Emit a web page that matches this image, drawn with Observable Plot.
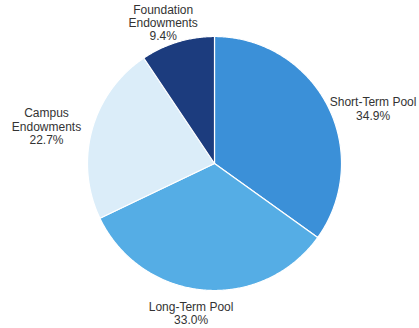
<!DOCTYPE html>
<html>
<head>
<meta charset="utf-8">
<script src="https://cdn.jsdelivr.net/npm/d3@7"></script>
<script src="https://cdn.jsdelivr.net/npm/@observablehq/plot@0.6"></script>
<style>
  html, body { margin: 0; padding: 0; background: #fff; }
  #chart svg { display: block; }
</style>
</head>
<body>
<div id="chart"></div>
<script>
const categories = ["Short-Term Pool", "Long-Term Pool", "Campus Endowments", "Foundation Endowments"];
const shares = [34.9, 33.0, 22.7, 9.4];
const labelNames = ["Short-Term Pool", "Long-Term Pool", "Campus\nEndowments", "Foundation\nEndowments"];
const colors = ["#3b90d8", "#55ade5", "#dbedf9", "#1c3c7e"];

// layout (styling only)
const W = 419, H = 328, cx = 214, cy = 163, R = 127;
const labelR = 1.2;
const labelNudge = [[23, 15], [-10, -2], [-21, 3], [-7, 5]]; // px

const arcs = d3.pie().sort(null).value(d => d)(shares);

const polys = [];
arcs.forEach((a, i) => {
  const n = Math.max(2, Math.ceil((a.endAngle - a.startAngle) / (Math.PI / 360)));
  polys.push({cat: categories[i], x: 0, y: 0, k: 0});
  for (let j = 0; j <= n; j++) {
    const t = a.startAngle + (a.endAngle - a.startAngle) * j / n;
    polys.push({cat: categories[i], x: Math.sin(t), y: Math.cos(t), k: j + 1});
  }
  polys.push({cat: categories[i], x: 0, y: 0, k: n + 2});
});

const labels = arcs.map((a, i) => {
  const m = (a.startAngle + a.endAngle) / 2;
  return {
    text: labelNames[i] + "\n" + shares[i].toFixed(1) + "%",
    x: labelR * Math.sin(m) + labelNudge[i][0] / R,
    y: labelR * Math.cos(m) - labelNudge[i][1] / R
  };
});

const chart = Plot.plot({
  width: W,
  height: H,
  margin: 0,
  x: {domain: [-cx / R, (W - cx) / R], axis: null},
  y: {domain: [-(H - cy) / R, cy / R], axis: null},
  color: {domain: categories, range: colors},
  style: {fontFamily: "Liberation Sans, Arial, sans-serif", background: "#fff"},
  marks: [
    Plot.line(polys, {x: "x", y: "y", z: "cat", fill: "cat", stroke: "#fff", strokeWidth: 1.2, curve: "linear-closed"}),
    Plot.text(labels, {x: "x", y: "y", text: "text", fontSize: 12, lineHeight: 1.12, fill: "#333", textAnchor: "middle"})
  ]
});

document.getElementById("chart").appendChild(chart);
</script>
</body>
</html>
